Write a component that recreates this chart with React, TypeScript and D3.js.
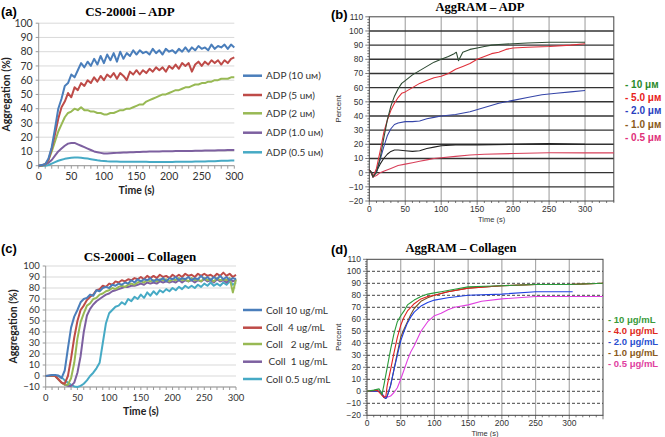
import React from "react";
import * as d3 from "d3";

type Pt = [number, number];

// time base for the CS-2000i traces (s)
const T5 = [0, 5, 10, 15, 20, 25, 30, 35, 40, 45, 50, 55, 60, 65, 70, 75, 80, 85, 90, 95, 100, 105, 110, 115, 120, 125, 130, 135, 140, 145, 150, 155, 160, 165, 170, 175, 180, 185, 190, 195, 200, 205, 210, 215, 220, 225, 230, 235, 240, 245, 250, 255, 260, 265, 270, 275, 280, 285, 290, 295, 300];

// (a) CS-2000i ADP
const adpLabels = ["ADP (10 uм)", "ADP (5 uм)", "ADP (2 uм)", "ADP (1.0 uм)", "ADP (0.5 uм)"];
const adp10 = [0, 0.5, 1, 5, 13, 26, 40, 47, 56, 58, 64, 62, 67, 72, 69, 73, 70, 75, 71, 77, 72, 78, 74, 79, 73, 80, 75, 79, 77, 81, 78, 81, 79, 80, 78, 82, 79, 81, 78, 82, 80, 81, 79, 82, 80, 83, 80, 83, 81, 84, 82, 83, 81, 85, 82, 84, 83, 85, 82, 85, 83];
const adp5 = [0, 0.3, 1, 4, 12, 22, 33, 41, 45, 51, 48, 55, 53, 58, 56, 60, 58, 62, 59, 63, 60, 64, 62, 65, 61, 65, 63, 60, 66, 64, 67, 64, 67, 65, 68, 66, 69, 67, 69, 66, 70, 68, 71, 68, 72, 70, 72, 66, 71, 73, 70, 73, 71, 74, 72, 74, 71, 74, 72, 75, 76];
const adp2 = [0, 0, 1, 4, 10, 17, 24, 29, 34, 37, 38, 40, 39, 41, 39, 39, 38, 38, 37, 37, 36, 36, 37, 37, 38, 39, 39, 40, 40, 41, 42, 43, 43, 45, 46, 47, 48, 49, 50, 50, 51, 52, 53, 53, 54, 55, 55, 56, 57, 57, 58, 58, 59, 59, 60, 60, 61, 61, 61, 62, 62];
const adp1 = [0, 0, 1, 2, 4, 7, 10, 12, 14, 15.5, 16, 16, 15, 14, 13, 12, 11, 10, 9.5, 9, 8.5, 8.5, 8.7, 8.9, 9, 9.1, 9.2, 9.3, 9.4, 9.5, 9.6, 9.7, 9.8, 9.8, 9.9, 10, 10, 10, 10.1, 10.1, 10.2, 10.2, 10.3, 10.3, 10.3, 10.4, 10.4, 10.4, 10.5, 10.5, 10.5, 10.6, 10.6, 10.7, 10.7, 10.8, 10.8, 10.9, 11, 11, 11];
const adp05 = [0, 0, 0, 0.5, 1.5, 2.5, 3.5, 4.2, 4.8, 5.2, 5.5, 5.7, 5.7, 5.6, 5.3, 5, 4.6, 4.2, 3.8, 3.5, 3.3, 3.1, 3, 2.9, 2.9, 2.8, 2.8, 2.8, 2.7, 2.7, 2.7, 2.7, 2.7, 2.7, 2.6, 2.6, 2.6, 2.6, 2.6, 2.6, 2.6, 2.6, 2.7, 2.7, 2.7, 2.8, 2.8, 2.8, 2.9, 2.9, 3, 3, 3.1, 3.2, 3.2, 3.3, 3.4, 3.4, 3.5, 3.6, 3.6];

// (c) CS-2000i collagen
const collLabels = ["Coll 10 ug/mL", "Coll  4 ug/mL", "Coll   2 ug/mL", " Coll  1 ug/mL", "Coll 0.5 ug/mL"];
const coll10 = [0, 0.5, 1, 1, 0.5, -2, 5, 25, 44, 54, 60, 67, 70, 71, 74, 73, 78, 77, 80, 81, 80, 83, 82, 84, 83, 85, 84, 87, 85, 88, 86, 88, 87, 89, 86, 88, 87, 89, 86, 89, 88, 90, 87, 89, 88, 90, 87, 89, 88, 91, 88, 90, 87, 90, 88, 91, 88, 90, 87, 89, 88];
const coll4 = [0, 0.3, 0.5, 0, -3, -6, -7, 0, 16, 35, 50, 60, 64, 69, 72, 74, 78, 79, 82, 81, 84, 83, 86, 85, 87, 86, 88, 87, 89, 88, 90, 88, 91, 89, 91, 89, 92, 90, 91, 89, 92, 90, 92, 90, 93, 91, 92, 90, 93, 91, 93, 91, 92, 90, 93, 91, 94, 91, 93, 90, 92];
const coll2 = [0, 0, 0.3, 0, -3, -6, -8, -8, -2, 12, 34, 49, 57, 64, 66, 70, 71, 74, 75, 77, 78, 80, 79, 81, 82, 81, 83, 84, 83, 85, 86, 85, 87, 86, 87, 86, 88, 87, 88, 86, 88, 87, 89, 87, 88, 86, 89, 87, 88, 86, 89, 87, 88, 86, 89, 87, 88, 87, 89, 76, 88];
const coll1 = [0, 0, 0.3, 0, -3, -6, -8, -9, -9, -6, 3, 18, 40, 55, 61, 65, 68, 70, 72, 74, 75, 77, 78, 79, 80, 81, 81, 82, 82, 83, 84, 83, 85, 84, 85, 84, 86, 85, 86, 85, 86, 85, 87, 85, 87, 86, 87, 85, 87, 86, 88, 86, 87, 85, 88, 86, 87, 85, 88, 86, 87];
const coll05 = [0, 0, 0, 0, 0, -1, -4, -6, -8, -9.5, -10, -9, -7, -4, 0, 3, 7, 12, 30, 48, 57, 60, 63, 64, 67, 65, 70, 68, 72, 70, 74, 71, 76, 73, 77, 74, 78, 76, 79, 77, 80, 78, 81, 79, 82, 80, 82, 80, 83, 81, 84, 82, 85, 82, 84, 82, 85, 83, 86, 83, 85];

// (b) AggRAM ADP, [time, percent]
const aggAdpLabels = ["- 10 μм", "- 5.0 μм", "- 2.0 μм", "- 1.0 μм", "- 0.5 μм"];
const agg10: Pt[] = [[0, 2], [3, 0], [5, -3], [10, 0], [15, 10], [20, 24], [25, 37], [30, 47], [35, 54], [40, 59], [45, 63], [50, 65], [60, 69], [70, 72], [80, 75], [90, 78], [100, 80], [110, 82], [118, 84], [121, 85], [124, 79], [127, 82], [130, 85], [140, 87], [150, 88], [160, 89], [170, 90], [180, 90.5], [200, 91], [220, 91.5], [250, 92], [280, 92], [300, 92]];
const agg5: Pt[] = [[0, 2], [3, 0], [5, -3], [10, 3], [15, 15], [20, 28], [25, 37], [30, 44], [35, 49], [40, 53], [45, 56], [50, 57], [60, 60], [70, 63], [80, 65], [90, 67], [100, 68], [110, 70], [120, 73], [130, 75], [140, 77], [150, 80], [160, 82], [170, 84], [180, 85], [190, 87], [200, 88], [220, 88.5], [250, 89], [280, 90], [300, 91]];
const agg2: Pt[] = [[0, 2], [3, 0], [5, -3], [10, 1], [15, 9], [20, 18], [25, 26], [30, 31], [35, 34], [40, 35], [50, 36], [60, 36], [70, 36.5], [80, 38], [90, 39], [100, 40], [120, 41], [140, 43], [160, 46], [180, 49], [200, 51], [220, 53], [240, 55], [260, 56], [280, 57], [300, 58]];
const agg1: Pt[] = [[0, 2], [3, 0], [5, -3], [10, 1], [15, 6], [20, 10], [25, 13], [30, 15], [35, 16], [40, 16], [50, 15.5], [60, 15], [70, 15.5], [80, 17], [90, 18], [100, 19], [120, 19.5], [150, 19.5], [200, 20], [250, 20.5], [300, 20]];
const agg05: Pt[] = [[0, 2], [3, 0], [5, -3], [10, -2], [15, 0], [20, 1], [30, 3], [40, 5], [50, 6], [60, 7], [70, 8], [80, 9], [90, 10], [100, 10.5], [120, 11.5], [140, 12.5], [160, 13], [200, 13.5], [250, 14], [300, 14], [340, 14]];

// (d) AggRAM collagen
const aggCollLabels = ["- 10 μg/mL", "- 4.0 μg/mL", "- 2.0 μg/mL", "- 1.0 μg/mL", "- 0.5 μg/mL"];
const aggC10: Pt[] = [[0, 0], [10, 1], [18, 2], [20, 0], [22, -3], [25, 5], [30, 20], [35, 35], [40, 48], [45, 58], [50, 63], [55, 67], [60, 72], [65, 74], [70, 76], [80, 79], [90, 81], [100, 82], [110, 83], [120, 84], [130, 85], [150, 87], [175, 87.5], [200, 88], [250, 89], [300, 89], [350, 90]];
const aggC4: Pt[] = [[0, 0], [15, 1], [20, -2], [25, -5], [28, -4], [30, 5], [35, 18], [40, 32], [45, 45], [50, 55], [55, 62], [60, 67], [65, 70], [70, 73], [80, 77], [90, 79], [100, 80], [120, 83], [150, 86], [200, 88], [250, 89], [300, 89], [350, 90]];
const aggC2: Pt[] = [[0, 0], [20, 0], [25, -5], [28, -6], [30, -4], [35, 5], [40, 18], [45, 30], [50, 42], [55, 50], [60, 57], [65, 62], [70, 66], [80, 71], [90, 74], [100, 76], [120, 78], [150, 80], [200, 81], [250, 83], [300, 83], [305, 83]];
const aggC1: Pt[] = [[0, 0], [20, 0], [25, -5], [28, -6], [30, -4], [35, 5], [40, 18], [45, 32], [50, 45], [55, 52], [60, 58], [65, 64], [70, 69], [80, 75], [90, 78], [100, 80], [120, 83], [150, 86], [200, 88], [250, 89], [300, 89], [350, 90]];
const aggC05: Pt[] = [[0, 0], [20, 0], [25, -4], [30, -5], [35, -4], [40, -1], [45, 3], [50, 10], [55, 18], [60, 26], [65, 33], [70, 38], [75, 44], [80, 50], [90, 58], [100, 63], [110, 65], [120, 68], [130, 70], [150, 72], [170, 75], [200, 77], [250, 79], [300, 79], [350, 79]];

const excelColors = ["#4a7ebb", "#be4b48", "#98b954", "#7d60a0", "#46aac5"];
const aggAdpLine = ["#2d4a32", "#e0303a", "#3545a8", "#222222", "#d8405a"];
const aggAdpText = ["#2a8a2a", "#e8201a", "#2a3fc0", "#8a5a1a", "#e0307a"];
const aggCollLine = ["#2a9a3a", "#e02020", "#2040e0", "#7a5020", "#e040e0"];
const aggCollText = ["#3a9a3a", "#e02a20", "#2a50d0", "#8a5a20", "#e040a0"];

const zip = (vals: number[]): Pt[] => vals.map((v, i) => [T5[i], v]);

function ExcelPanel(props: {
  tag: string; title: string; titleX: number; titleY: number; tagY: number;
  x0: number; x1: number; yTop: number; yBot: number; yMin: number; tickSize: number;
  series: number[][]; labels: string[]; legY: number[]; yLabX: number;
}) {
  const { x0, x1, yTop, yBot, yMin } = props;
  const x = d3.scaleLinear().domain([0, 300]).range([x0, x1]);
  const y = d3.scaleLinear().domain([yMin, 100]).range([yBot, yTop]);
  const line = d3.line<Pt>().x(d => x(d[0])).y(d => y(d[1]));
  const yTicks = d3.range(yMin, 101, 10);
  const xTicks = d3.range(0, 301, 50);
  const minor = d3.range(0, 301, 10);
  const f = "Lato, 'Open Sans', sans-serif";
  return (
    <g>
      <text x={1} y={props.tagY} fontFamily="Liberation Sans, Arial" fontWeight={700} fontSize={13}>{props.tag}</text>
      <text x={props.titleX} y={props.titleY} textAnchor="middle" fontFamily="Liberation Serif, serif" fontWeight={700} fontSize={13}>{props.title}</text>
      {yTicks.map(t => (
        <g key={t}>
          <line x1={x0} x2={x1} y1={y(t)} y2={y(t)} stroke="#d9d9d9" strokeWidth={1} />
          <line x1={x0 - 3} x2={x0} y1={y(t)} y2={y(t)} stroke="#999" />
          <text x={x0 - 6} y={y(t) + props.tickSize * 0.36} textAnchor="end" fontFamily={f} fontSize={props.tickSize} fill="#333">{t < 0 ? "\u2212" + Math.abs(t) : t}</text>
        </g>
      ))}
      <line x1={x0} x2={x0} y1={yTop} y2={yBot} stroke="#999" />
      <line x1={x0} x2={x1} y1={yBot} y2={yBot} stroke="#999" />
      {minor.map(t => <line key={t} x1={x(t)} x2={x(t)} y1={yBot} y2={yBot + 3} stroke="#999" />)}
      {xTicks.map(t => (
        <text key={t} x={x(t)} y={yBot + 14} textAnchor="middle" fontFamily={f} fontSize={props.tickSize} fill="#333">{t}</text>
      ))}
      <text x={(x0 + x1) / 2} y={yBot + 28} textAnchor="middle" fontFamily={f} fontWeight={700} fontSize={10.5} fill="#222">Time (s)</text>
      <text transform={`translate(${props.yLabX},${(yTop + yBot) / 2}) rotate(-90)`} textAnchor="middle" fontFamily={f} fontWeight={700} fontSize={10.5} fill="#222">Aggregation (%)</text>
      {props.series.map((s, i) => (
        <path key={i} d={line(zip(s)) || ""} fill="none" stroke={excelColors[i]} strokeWidth={2} strokeLinejoin="round" />
      )).reverse()}
      {props.labels.map((l, i) => (
        <g key={l}>
          <line x1={243} x2={262} y1={props.legY[i]} y2={props.legY[i]} stroke={excelColors[i]} strokeWidth={2.5} />
          <text x={266} y={props.legY[i] + 3.6} fontFamily={f} fontSize={10} fill="#333" style={{ whiteSpace: "pre" }}>{l}</text>
        </g>
      ))}
    </g>
  );
}

function AggPanel(props: {
  tag: string; title: string; titleX: number; titleY: number; tagY: number;
  x0: number; x1: number; xMax: number; yTop: number; yBot: number; dashed: boolean;
  series: Pt[][]; lineColors: string[]; labels: string[]; textColors: string[];
  legX: number; legY: number[]; legSize: number; timeY: number;
}) {
  const { x0, x1, yTop, yBot, xMax } = props;
  const x = d3.scaleLinear().domain([0, xMax]).range([x0, x1]);
  const y = d3.scaleLinear().domain([-20, 110]).range([yBot, yTop]);
  const line = d3.line<Pt>().x(d => x(d[0])).y(d => y(d[1]));
  const yTicks = d3.range(-20, 111, 10);
  const yMinor = d3.range(-20, 111, 2);
  const xTicks = d3.range(0, 301, 50);
  const xMinor = d3.range(0, xMax + 1, 10);
  const f = "Liberation Sans, Arial, sans-serif";
  return (
    <g>
      <text x={331} y={props.tagY} fontFamily={f} fontWeight={700} fontSize={13}>{props.tag}</text>
      <text x={props.titleX} y={props.titleY} textAnchor="middle" fontFamily="Liberation Serif, serif" fontWeight={700} fontSize={12.5}>{props.title}</text>
      {xTicks.slice(1).map(t => (
        <line key={t} x1={x(t)} x2={x(t)} y1={yTop} y2={yBot} stroke="#aaa" strokeWidth={1.2} />
      ))}
      {yTicks.slice(1, -1).map(t => (
        <line key={t} x1={x0} x2={x1} y1={y(t)} y2={y(t)} stroke={props.dashed ? "#444" : "#333"} strokeWidth={props.dashed ? 1 : 1.4} strokeDasharray={props.dashed ? "3,2" : undefined} />
      ))}
      <rect x={x0} y={yTop} width={x1 - x0} height={yBot - yTop} fill="none" stroke="#444" strokeWidth={1} />
      {yMinor.map(t => <line key={t} x1={x0 - (t % 10 === 0 ? 4 : 2)} x2={x0} y1={y(t)} y2={y(t)} stroke="#444" strokeWidth={0.7} />)}
      {xMinor.map(t => <line key={t} x1={x(t)} x2={x(t)} y1={yBot} y2={yBot + (t % 50 === 0 ? 4 : 2)} stroke="#444" strokeWidth={0.7} />)}
      {yTicks.map(t => (
        <text key={t} x={x0 - 6} y={y(t) + 3} textAnchor="end" fontFamily={f} fontSize={8.5} fill="#333">{t < 0 ? "\u2212" + Math.abs(t) : t}</text>
      ))}
      {xTicks.map(t => (
        <text key={t} x={x(t)} y={yBot + 11} textAnchor="middle" fontFamily={f} fontSize={8.5} fill="#333">{t}</text>
      ))}
      <text x={(x0 + x1) / 2} y={props.timeY} textAnchor="middle" fontFamily={f} fontSize={7.5} fill="#333">Time (s)</text>
      <text transform={`translate(${341},${(yTop + yBot) / 2}) rotate(-90)`} textAnchor="middle" fontFamily={f} fontSize={8} fill="#333">Percent</text>
      {props.series.map((s, i) => (
        <path key={i} d={line(s) || ""} fill="none" stroke={props.lineColors[i]} strokeWidth={1.1} strokeLinejoin="round" />
      )).reverse()}
      {props.labels.map((l, i) => (
        <text key={l} x={props.legX} y={props.legY[i] + 3.5} fontFamily={f} fontWeight={700} fontSize={props.legSize} fill={props.textColors[i]}>{l}</text>
      ))}
    </g>
  );
}

export default function App() {
  return (
    <svg width={665} height={437} style={{ position: "absolute", left: 0, top: 0, background: "#fff" }}>
      <rect width={665} height={437} fill="#fff" />
      <ExcelPanel tag="(a)" title="CS-2000i – ADP" titleX={130} titleY={15.5} tagY={16}
        x0={38.7} x1={234.3} yTop={23.2} yBot={165.7} yMin={0} tickSize={10.5}
        series={[adp10, adp5, adp2, adp1, adp05]} labels={adpLabels}
        legY={[75.7, 95, 113.3, 132.7, 152.3]} yLabX={10} />
      <ExcelPanel tag="(c)" title="CS-2000i – Collagen" titleX={140} titleY={261} tagY={253}
        x0={45.7} x1={236} yTop={266} yBot={387} yMin={-10} tickSize={9.5}
        series={[coll10, coll4, coll2, coll1, coll05]} labels={collLabels}
        legY={[310, 327.7, 344, 361.7, 379]} yLabX={17} />
      <AggPanel tag="(b)" title="AggRAM – ADP" titleX={480} titleY={11} tagY={19}
        x0={369.3} x1={613.8} xMax={340} yTop={16.8} yBot={201} dashed={false}
        series={[agg10, agg5, agg2, agg1, agg05]} lineColors={aggAdpLine}
        labels={aggAdpLabels} textColors={aggAdpText} legX={625} legY={[84, 97.7, 110.7, 124.3, 137.3]} legSize={10} timeY={222} />
      <AggPanel tag="(d)" title="AggRAM – Collagen" titleX={461} titleY={251.5} tagY={254}
        x0={367} x1={603} xMax={350} yTop={259.3} yBot={415.3} dashed={true}
        series={[aggC10, aggC4, aggC2, aggC1, aggC05]} lineColors={aggCollLine}
        labels={aggCollLabels} textColors={aggCollText} legX={608} legY={[319.3, 330.3, 341, 352, 363.3]} legSize={9.5} timeY={436} />
    </svg>
  );
}
